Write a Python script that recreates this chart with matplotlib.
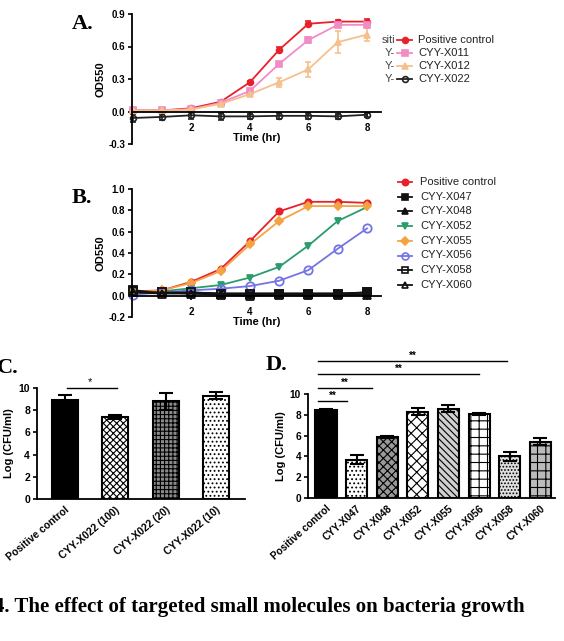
import numpy as np
import matplotlib.pyplot as plt
from matplotlib.lines import Line2D

plt.rcParams['font.family'] = ['Liberation Sans', 'DejaVu Sans']
plt.rcParams['hatch.linewidth'] = 0.8

W, H = 564, 641

hours = [0, 1, 2, 3, 4, 5, 6, 7, 8]

# panel A: OD550 growth curves
a_names = ["Positive control", "CYY-X011", "CYY-X012", "CYY-X022"]
a_pos = [0.01, 0.01, 0.03, 0.09, 0.27, 0.57, 0.81, 0.83, 0.83]
a_pos_err = [0.005, 0.005, 0.006, 0.01, 0.015, 0.025, 0.025, 0.015, 0.025]
a_x011 = [0.01, 0.01, 0.02, 0.08, 0.19, 0.44, 0.66, 0.80, 0.80]
a_x011_err = [0.005, 0.005, 0.005, 0.01, 0.015, 0.02, 0.03, 0.012, 0.012]
a_x012 = [0.01, 0.01, 0.02, 0.07, 0.16, 0.27, 0.39, 0.64, 0.71]
a_x012_err = [0.005, 0.005, 0.005, 0.01, 0.015, 0.04, 0.07, 0.10, 0.06]
a_x022 = [-0.06, -0.05, -0.035, -0.045, -0.045, -0.04, -0.04, -0.045, -0.03]
a_x022_err = [0.035, 0.03, 0.03, 0.03, 0.025, 0.025, 0.03, 0.02, 0.02]

# panel B: OD550 growth curves
b_names = ["Positive control", "CYY-X047", "CYY-X048", "CYY-X052",
           "CYY-X055", "CYY-X056", "CYY-X058", "CYY-X060"]
b_pos = [0.04, 0.05, 0.13, 0.25, 0.51, 0.79, 0.88, 0.88, 0.87]
b_x047 = [0.05, 0.03, 0.03, 0.02, 0.02, 0.02, 0.02, 0.02, 0.03]
b_x048 = [0.04, 0.03, 0.02, 0.01, 0.01, 0.01, 0.01, 0.01, 0.01]
b_x052 = [0.03, 0.04, 0.07, 0.10, 0.17, 0.27, 0.47, 0.70, 0.83]
b_x055 = [0.03, 0.05, 0.12, 0.23, 0.48, 0.70, 0.84, 0.84, 0.84]
b_x056 = [0.01, 0.03, 0.05, 0.065, 0.09, 0.14, 0.24, 0.44, 0.63]
b_x058 = [0.04, 0.03, 0.03, 0.02, 0.02, 0.02, 0.02, 0.02, 0.03]
b_x060 = [0.03, 0.02, 0.02, 0.01, 0.00, 0.01, 0.01, 0.01, 0.01]

# panel C: Log CFU/ml
c_labels = ["Positive control", "CYY-X022 (100)", "CYY-X022 (20)", "CYY-X022 (10)"]
c_vals = [8.9, 7.4, 8.8, 9.3]
c_err = [0.5, 0.15, 0.75, 0.3]

# panel D: Log CFU/ml
d_labels = ["Positive control", "CYY-X047", "CYY-X048", "CYY-X052",
            "CYY-X055", "CYY-X056", "CYY-X058", "CYY-X060"]
d_vals = [8.5, 3.7, 5.9, 8.3, 8.6, 8.1, 4.0, 5.4]
d_err = [0.1, 0.45, 0.1, 0.35, 0.3, 0.08, 0.45, 0.35]


def box(x0, y0, x1, y1):
    return [x0 / W, 1 - y1 / H, (x1 - x0) / W, (y1 - y0) / H]


def fx(x):
    return x / W


def fy(y):
    return 1 - y / H


def prism(ax, size=7):
    ax.spines['top'].set_visible(False)
    ax.spines['right'].set_visible(False)
    for s in ('left', 'bottom'):
        ax.spines[s].set_linewidth(1.3)
    ax.tick_params(direction='out', length=3, width=1.2, labelsize=size, pad=2)
    for lab in ax.get_xticklabels() + ax.get_yticklabels():
        lab.set_fontweight('bold')


fig = plt.figure(figsize=(W / 100, H / 100), dpi=100)

# ---------- A ----------
axA = fig.add_axes(box(132, 14, 381, 144))
axA.set_xlim(-0.03, 8.48)
axA.set_ylim(-0.3, 0.9)
axA.spines['bottom'].set_position(('data', 0))
a_style = [
    (a_pos, a_pos_err, '#e8202a', 'o', 'full'),
    (a_x011, a_x011_err, '#f28cc4', 's', 'full'),
    (a_x012, a_x012_err, '#f6c08c', '^', 'full'),
    (a_x022, a_x022_err, '#222222', 'o', 'none'),
]
for vals, err, col, mk, fill in a_style:
    axA.errorbar(hours, vals, yerr=err, color=col, marker=mk, ms=4.2,
                 fillstyle=fill, mew=1.2, lw=1.3, capsize=2.5, elinewidth=1.2,
                 clip_on=False)
axA.set_yticks([-0.3, 0.0, 0.3, 0.6, 0.9])
axA.set_yticklabels(["-0.3", "0.0", "0.3", "0.6", "0.9"])
axA.set_xticks([2, 4, 6, 8])
prism(axA)
axA.tick_params(axis='x', pad=5.5)
fig.text(fx(257), fy(138), "Time (hr)", ha='center', va='center',
         fontsize=8, fontweight='bold')
fig.text(fx(101), fy(79), "OD550", rotation=90, ha='center', va='center',
         fontsize=8, fontweight='bold')

legA_y = [40, 53, 66, 79]
legA_pre = ["siti", "Y-", "Y-", "Y-"]
for (vals, err, col, mk, fill), name, yy, pre in zip(a_style, a_names, legA_y, legA_pre):
    fig.add_artist(Line2D([fx(397), fx(405), fx(412)], [fy(yy)] * 3, color=col,
                          lw=1.3, marker=mk, ms=4.2, markevery=[1], fillstyle=fill,
                          mew=1.2))
    fig.text(fx(418), fy(yy), name, fontsize=8, va='center', color='#222222')
    fig.text(fx(395), fy(yy), pre, fontsize=8, va='center', ha='right',
             color='#444444')

# ---------- B ----------
axB = fig.add_axes(box(132, 189, 381, 317))
axB.set_xlim(-0.03, 8.48)
axB.set_ylim(-0.2, 1.0)
axB.spines['bottom'].set_position(('data', 0))
b_style = [
    (b_pos, '#e8202a', 'o', 'full', 4.5),
    (b_x047, '#111111', 's', 'full', 5.5),
    (b_x048, '#111111', '^', 'full', 5),
    (b_x052, '#2a9d6c', 'v', 'full', 4.5),
    (b_x055, '#f5a243', 'D', 'full', 4),
    (b_x056, '#7474e6', 'o', 'none', 6),
    (b_x058, '#111111', 's', 'none', 6),
    (b_x060, '#111111', '^', 'none', 5.5),
]
for vals, col, mk, fill, ms in b_style:
    axB.plot(hours, vals, color=col, marker=mk, ms=ms, fillstyle=fill,
             mew=1.3, lw=1.3, clip_on=False)
axB.set_yticks([-0.2, 0.0, 0.2, 0.4, 0.6, 0.8, 1.0])
axB.set_yticklabels(["-0.2", "0.0", "0.2", "0.4", "0.6", "0.8", "1.0"])
axB.set_xticks([2, 4, 6, 8])
prism(axB)
axB.tick_params(axis='x', pad=5)
fig.text(fx(257), fy(322), "Time (hr)", ha='center', va='center',
         fontsize=8, fontweight='bold')
fig.text(fx(101), fy(253), "OD550", rotation=90, ha='center', va='center',
         fontsize=8, fontweight='bold')

for i, ((vals, col, mk, fill, ms), name) in enumerate(zip(b_style, b_names)):
    yy = 182 + 14.7 * i
    fig.add_artist(Line2D([fx(398), fx(405), fx(412)], [fy(yy)] * 3, color=col,
                          lw=1.3, marker=mk, ms=min(ms, 5), markevery=[1],
                          fillstyle=fill, mew=1.2))
    fig.text(fx(420), fy(yy), name, fontsize=8, va='center', color='#222222')

# ---------- C ----------
axC = fig.add_axes(box(37, 388, 245, 499))
c_face = ['black', 'white', '#8a8a8a', 'white']
c_hatch = [None, 'xxxxx', '++++', '....']
xc = np.arange(len(c_vals))
for i in range(len(c_vals)):
    axC.bar(xc[i], c_vals[i], width=0.52, color=c_face[i], edgecolor='black',
            hatch=c_hatch[i], linewidth=1.5)
axC.errorbar(xc, c_vals, yerr=c_err, fmt='none', ecolor='black', elinewidth=1.5,
             capsize=5, capthick=1.5)
axC.set_xlim(-0.56, 3.58)
axC.set_ylim(0, 10)
axC.set_yticks([0, 2, 4, 6, 8, 10])
axC.set_xticks(xc)
axC.set_xticklabels(c_labels, rotation=40, ha='right', va='top',
                    rotation_mode='anchor')
prism(axC, 7.5)
axC.tick_params(axis='x', length=0, pad=4)
axC.set_ylabel("Log (CFU/ml)", fontsize=8, fontweight='bold', labelpad=3)
axC.plot([0.04, 1.03], [10.0, 10.0], color='black', lw=1, clip_on=False)
axC.text(0.5, 10.1, "*", ha='center', va='bottom', fontsize=8)

# ---------- D ----------
axD = fig.add_axes(box(308, 394, 555, 498))
d_face = ['black', 'white', '#999999', 'white', '#d0d0d0', 'white', '#e0e0e0', '#bbbbbb']
d_hatch = [None, '....', 'xxxx', 'xxx', '\\\\\\\\\\', '++', '.....', '--||']
xd = np.arange(len(d_vals))
for i in range(len(d_vals)):
    axD.bar(xd[i], d_vals[i], width=0.69, color=d_face[i], edgecolor='black',
            hatch=d_hatch[i], linewidth=1.5)
axD.errorbar(xd, d_vals, yerr=d_err, fmt='none', ecolor='black', elinewidth=1.5,
             capsize=5, capthick=1.5)
axD.set_xlim(-0.59, 7.48)
axD.set_ylim(0, 10)
axD.set_yticks([0, 2, 4, 6, 8, 10])
axD.set_xticks(xd)
axD.set_xticklabels(d_labels, rotation=42, ha='right', va='top',
                    rotation_mode='anchor')
prism(axD, 7.3)
axD.tick_params(axis='x', length=0, pad=4)
axD.set_ylabel("Log (CFU/ml)", fontsize=8, fontweight='bold', labelpad=3)
sig_y = [9.33, 10.58, 11.92, 13.17]
sig_end = [0.69, 1.5, 5.0, 5.9]
for yy, xe in zip(sig_y, sig_end):
    axD.plot([-0.26, xe], [yy, yy], color='black', lw=1, clip_on=False)
    axD.text((xe - 0.26) / 2, yy + 0.05, "**", ha='center', va='bottom',
             fontsize=7, fontweight='bold')

# panel letters and caption
for lab, x, y in [("A.", 72, 24), ("B.", 72, 198), ("C.", -3, 368), ("D.", 266, 365)]:
    fig.text(fx(x), fy(y), lab, fontsize=16, fontweight='bold',
             family='Liberation Serif', va='center', ha='left')
fig.text(fx(-6), fy(607), "4. The effect of targeted small molecules on bacteria growth",
         fontsize=15, fontweight='bold', family='Liberation Serif', va='center')

fig.savefig("out.png", dpi=100)
